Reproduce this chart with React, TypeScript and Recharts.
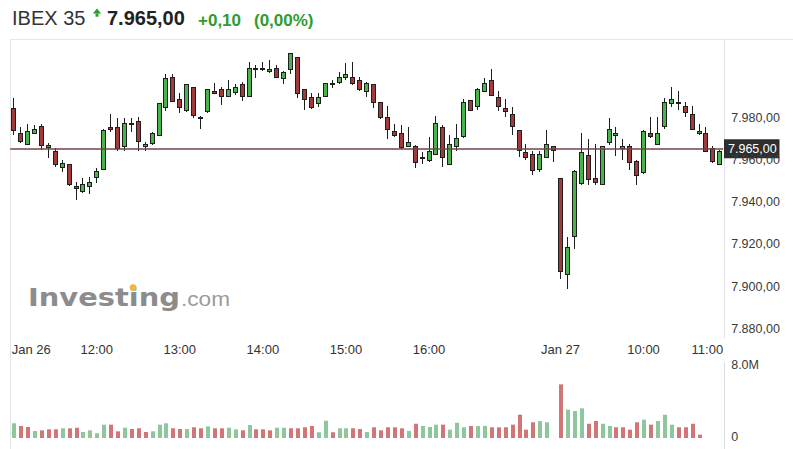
import React from "react";
import { ComposedChart, Bar, XAxis, YAxis, ReferenceLine } from "recharts";

// ---------- data ----------
const SESSIONS = [
  { day: "Jan 26", startHour: 11, startMinute: 0, count: 79 },
  { day: "Jan 27", startHour: 9, startMinute: 0, count: 24 },
];

const OPEN = [
  7984.5, 7972.4, 7966.9, 7972.2, 7975.7, 7965.3, 7964.0, 7956.1, 7957.7, 7947.6,
  7944.7, 7947.1, 7951.1, 7955.0, 7975.5, 7975.5, 7966.1, 7977.4, 7978.4, 7966.1,
  7967.2, 7971.3, 7984.3, 7999.2, 7988.7, 7983.0, 7994.4, 7980.3, 7982.4, 7992.6,
  7993.3, 7989.8, 7991.4, 7995.6, 7989.8, 8002.7, 8003.2, 8001.3, 8003.2, 7998.2,
  8002.4, 8008.4, 7993.3, 7989.8, 7986.3, 7989.8, 7995.6, 7996.1, 7998.5, 7999.0,
  7997.7, 7992.1, 7995.6, 7987.1, 7980.3, 7973.5, 7972.4, 7966.1, 7966.5, 7961.2,
  7959.3, 7962.1, 7975.5, 7957.4, 7966.1, 7970.8, 7988.2, 7985.0, 7992.1, 7997.7,
  7989.5, 7984.3, 7981.4, 7974.0, 7963.7, 7962.5, 7955.0, 7960.9, 7966.4, 7951.1,
  7905.3, 7923.1, 7948.4, 7962.1, 7951.1, 7947.9, 7968.0, 7971.1, 7965.1, 7966.4,
  7959.4, 7953.5, 7972.7, 7966.9, 7975.3, 7986.3, 7987.1, 7985.4, 7981.6, 7972.1,
  7972.4, 7965.3, 7957.4,
];
const HIGH = [
  7989.0, 7975.5, 7976.7, 7976.4, 7976.7, 7967.7, 7965.3, 7959.8, 7958.0, 7949.5,
  7951.1, 7951.8, 7955.8, 7974.3, 7981.6, 7979.8, 7979.8, 7979.8, 7980.3, 7968.4,
  7973.0, 7987.0, 8000.4, 8000.4, 7991.4, 7996.0, 7994.6, 7980.5, 7993.5, 7996.1,
  7994.5, 7997.7, 7995.6, 7996.6, 8006.1, 8004.8, 8006.1, 8007.2, 8004.8, 8001.9,
  8010.5, 8008.6, 7993.5, 7991.4, 7991.4, 7996.3, 7997.7, 8001.3, 8005.6, 8006.4,
  7999.2, 7996.6, 7995.8, 7987.3, 7985.5, 7976.7, 7976.4, 7975.5, 7966.7, 7963.7,
  7970.8, 7980.6, 7976.4, 7971.6, 7976.7, 7988.7, 7988.4, 7994.0, 7998.5, 8002.7,
  7992.6, 7988.7, 7985.0, 7974.2, 7967.2, 7964.0, 7964.0, 7974.0, 7966.6, 7951.3,
  7923.4, 7955.0, 7972.7, 7969.6, 7967.3, 7966.6, 7979.5, 7975.3, 7969.6, 7967.3,
  7959.6, 7973.8, 7980.3, 7980.3, 7989.0, 7994.5, 7992.6, 7987.4, 7985.4, 7976.8,
  7975.3, 7966.4, 7964.5,
];
const LOW = [
  7971.6, 7967.7, 7966.9, 7971.9, 7964.5, 7960.9, 7956.6, 7953.9, 7947.5, 7940.8,
  7944.0, 7943.5, 7948.7, 7954.8, 7972.9, 7964.0, 7964.0, 7972.9, 7964.0, 7964.0,
  7966.8, 7971.0, 7983.0, 7987.1, 7981.9, 7982.5, 7979.8, 7974.5, 7982.0, 7991.0,
  7985.8, 7989.5, 7990.6, 7987.7, 7989.6, 7998.8, 8001.9, 8001.0, 7998.5, 7995.6,
  8000.4, 7989.3, 7983.5, 7983.9, 7985.0, 7989.6, 7993.7, 7995.6, 7997.7, 7995.4,
  7992.7, 7989.8, 7984.5, 7979.3, 7969.7, 7970.8, 7965.0, 7966.0, 7955.8, 7957.9,
  7959.0, 7962.0, 7956.6, 7957.2, 7964.0, 7970.3, 7982.8, 7983.5, 7992.0, 7990.0,
  7983.0, 7980.3, 7971.6, 7961.3, 7959.8, 7952.7, 7953.9, 7960.9, 7959.0, 7903.2,
  7898.5, 7917.4, 7947.9, 7947.9, 7947.9, 7947.7, 7966.9, 7961.7, 7959.8, 7955.0,
  7947.9, 7953.3, 7970.0, 7966.8, 7974.3, 7985.0, 7983.5, 7980.3, 7973.8, 7971.6,
  7963.5, 7958.5, 7957.2,
];
const CLOSE = [
  7973.5, 7968.2, 7973.5, 7974.3, 7966.4, 7966.9, 7957.4, 7958.2, 7947.9, 7946.0,
  7948.2, 7949.5, 7954.7, 7974.0, 7974.0, 7965.0, 7977.2, 7976.4, 7968.2, 7967.2,
  7972.4, 7986.6, 7998.5, 7987.4, 7984.3, 7995.6, 7980.6, 7979.8, 7993.3, 7991.2,
  7989.8, 7993.3, 7994.5, 7989.5, 8003.2, 8003.2, 8002.4, 8002.9, 7998.8, 8001.3,
  8010.3, 7991.0, 7988.2, 7984.3, 7989.8, 7996.1, 7996.1, 7999.2, 8000.4, 7995.6,
  7992.9, 7996.1, 7986.6, 7979.5, 7974.0, 7971.1, 7965.3, 7968.2, 7958.2, 7960.6,
  7964.0, 7977.2, 7960.9, 7967.2, 7970.3, 7987.1, 7983.0, 7993.3, 7996.1, 7990.2,
  7985.0, 7982.4, 7975.5, 7964.0, 7960.6, 7954.5, 7962.5, 7967.2, 7964.0, 7906.8,
  7918.7, 7954.7, 7963.7, 7950.3, 7949.0, 7966.4, 7974.3, 7972.7, 7966.4, 7958.2,
  7952.2, 7973.6, 7970.5, 7972.7, 7987.4, 7988.5, 7986.6, 7982.2, 7974.0, 7973.6,
  7963.7, 7959.0, 7964.2,
];
// volume in millions
const VOLUME = [
  1.59, 1.30, 1.19, 0.76, 0.83, 0.94, 0.94, 1.05, 1.05, 1.11,
  0.65, 0.83, 0.51, 1.44, 1.44, 0.72, 1.11, 0.97, 1.05, 0.65,
  0.72, 1.44, 1.59, 1.05, 0.97, 0.97, 1.16, 1.05, 1.26, 1.05,
  1.05, 1.11, 0.94, 0.83, 1.40, 0.94, 0.94, 0.83, 1.11, 1.11,
  1.05, 1.05, 1.16, 1.30, 0.62, 1.87, 0.62, 1.05, 1.05, 1.05,
  0.97, 0.65, 1.16, 0.83, 1.16, 1.16, 1.05, 0.76, 1.54, 1.30,
  1.19, 1.44, 1.44, 0.90, 1.65, 1.16, 1.30, 1.30, 1.30, 1.16,
  1.16, 1.16, 1.44, 2.52, 0.90, 1.70, 1.84, 1.70, 0, 5.80,
  3.06, 2.92, 3.21, 1.54, 1.84, 1.54, 1.30, 1.16, 1.16, 0.90,
  1.70, 1.98, 1.44, 1.84, 2.52, 1.44, 1.16, 1.16, 1.54, 0.36,
  0, 0, 0,
];
// 1 = green volume bar, 0 = red volume bar
const VOLUME_UP = [
  1, 0, 0, 1, 0, 0, 0, 1, 0, 0,
  1, 1, 1, 1, 0, 0, 1, 0, 0, 0,
  1, 1, 1, 0, 0, 1, 0, 0, 1, 0,
  0, 1, 1, 0, 1, 0, 0, 0, 1, 1,
  0, 0, 0, 0, 1, 1, 0, 1, 1, 0,
  0, 1, 0, 0, 0, 0, 0, 1, 0, 1,
  1, 1, 0, 1, 1, 1, 0, 1, 1, 0,
  0, 0, 0, 0, 0, 0, 1, 1, 1, 0,
  1, 1, 1, 0, 0, 1, 1, 0, 0, 0,
  0, 1, 0, 1, 1, 1, 0, 0, 0, 0,
  0, 0, 0,
];

const X_TICK_INDEX = [0, 12, 24, 36, 48, 60, 79, 91, 103];
const X_TICK_LABELS = ["Jan 26", "12:00", "13:00", "14:00", "15:00", "16:00", "Jan 27", "10:00", "11:00"];
const PRICE_TICKS = [7880, 7900, 7920, 7940, 7960, 7980];
const PRICE_DOMAIN = [7874.45, 8016.64];
const LAST_PRICE = 7965;
const VOLUME_TICKS = [0, 8];
const VOLUME_DOMAIN = [0, 8];

// ---------- layout ----------
const W = 793;
const PLOT_LEFT = 10.2;
const AXIS_W = 69.8;
const PLOT_RIGHT = W - AXIS_W;
const FONT = "'Liberation Sans', Arial, sans-serif";
const GREEN_TXT = "#2e9c2e";

const pad = (n: number) => (n < 10 ? "0" + n : "" + n);
const times: string[] = [];
SESSIONS.forEach((s) => {
  for (let k = 0; k < s.count; k++) {
    const m = s.startHour * 60 + s.startMinute + k * 5;
    times.push(`${s.day} ${pad(Math.floor(m / 60))}:${pad(m % 60)}`);
  }
});

const data = OPEN.map((o, i) => ({
  i,
  t: times[i],
  o,
  h: HIGH[i],
  l: LOW[i],
  c: CLOSE[i],
  v: VOLUME[i],
  up: VOLUME_UP[i],
}));

const fmtPrice = (v: number) => {
  const [int, dec] = v.toFixed(2).split(".");
  const withDots = int.replace(/\B(?=(\d{3})+(?!\d))/g, ".");
  return `${withDots},${dec}`;
};

// ---------- shapes ----------
const Candle = (props: any) => {
  const { x, y, width, height, payload } = props;
  if (x == null || payload == null) return null;
  const { o, h, l, c } = payload;
  const top = Math.min(y, y + height);
  const hgt = Math.abs(height);
  const py = (v: number) => (h === l ? top : top + ((h - v) / (h - l)) * hgt);
  const cx = Math.floor(x + width / 2);
  const up = c >= o;
  const bTop = Math.round(py(Math.max(o, c)));
  let bBot = Math.round(py(Math.min(o, c)));
  if (bBot - bTop < 2) bBot = bTop + 2;
  return (
    <g>
      <line x1={cx + 0.5} x2={cx + 0.5} y1={Math.round(top)} y2={Math.round(top + hgt)} stroke="#1e1e1e" strokeWidth={1} />
      <rect
        x={cx - 1.5}
        y={bTop + 0.5}
        width={4}
        height={bBot - bTop - 1}
        fill={up ? "#4ab34c" : "#a23a3a"}
        stroke="#1e1e1e"
        strokeWidth={1}
      />
    </g>
  );
};

const VolBar = (props: any) => {
  const { x, y, width, height, payload } = props;
  if (x == null || !height || height <= 0) return null;
  const cx = Math.floor(x + width / 2);
  return <rect x={cx - 1} y={y} width={4} height={height} fill={payload.up ? "#8ec79d" : "#d27576"} />;
};

const TimeTick = (props: any) => {
  const { x, y, payload } = props;
  const k = X_TICK_INDEX.indexOf(payload.value);
  if (k < 0) return null;
  let anchor: "start" | "middle" | "end" = "middle";
  let tx = x;
  if (k === 0) {
    anchor = "start";
    tx = PLOT_LEFT + 1.5;
  }
  if (k === X_TICK_INDEX.length - 1) {
    anchor = "end";
    tx = PLOT_RIGHT;
  }
  return (
    <text x={tx} y={y} dy={14} textAnchor={anchor} fontSize={13} fill="#333" fontFamily={FONT}>
      {X_TICK_LABELS[k]}
    </text>
  );
};

const PriceTick = (props: any) => {
  const { x, y, payload } = props;
  return (
    <text x={x} y={y} dy={4.5} textAnchor="start" fontSize={12.5} fill="#3a3a3a" fontFamily={FONT}>
      {fmtPrice(payload.value)}
    </text>
  );
};

const VolTick = (props: any) => {
  const { x, y, payload } = props;
  const label = payload.value === 0 ? "0" : `${payload.value.toFixed(1)}M`;
  return (
    <text x={x} y={y} dy={payload.value === 0 ? 2.5 : 4.5} textAnchor="start" fontSize={12.5} fill="#3a3a3a" fontFamily={FONT}>
      {label}
    </text>
  );
};

const LastLabel = (props: any) => {
  const vb = props.viewBox || {};
  const bx = vb.x + vb.width + 0.8;
  const by = vb.y;
  return (
    <g>
      <rect x={bx} y={by - 9.7} width={55.5} height={19} fill="#2f2f2f" />
      <text x={bx + 4} y={by + 4.5} fontSize={12.5} fill="#ffffff" fontFamily={FONT}>
        {fmtPrice(LAST_PRICE)}
      </text>
    </g>
  );
};

export default function App() {
  return (
    <div style={{ position: "absolute", left: 0, top: 0, width: W, height: 449, background: "#fff", overflow: "hidden", fontFamily: FONT }}>
      {/* frame lines */}
      <svg width={W} height={449} style={{ position: "absolute", left: 0, top: 0 }}>
        <line x1={10} x2={W} y1={39.5} y2={39.5} stroke="#e6e6e6" strokeWidth={1} />
        <line x1={10.5} x2={10.5} y1={40} y2={449} stroke="#e6e6e6" strokeWidth={1} />
        <line x1={724.5} x2={724.5} y1={40} y2={338} stroke="#e0e0e6" strokeWidth={1} />
        <line x1={724.5} x2={724.5} y1={362} y2={449} stroke="#dcdce6" strokeWidth={1} />
      </svg>

      {/* header */}
      <svg width={W} height={40} style={{ position: "absolute", left: 0, top: 0 }}>
        <text x={12} y={25} fontSize={20} fill="#333" fontFamily={FONT}>IBEX 35</text>
        <polygon points="97,8.5 92.8,13.6 101.2,13.6" fill={GREEN_TXT} />
        <rect x={95.5} y={13.5} width={3} height={3.2} fill={GREEN_TXT} />
        <text x={107} y={25} fontSize={20} fontWeight="bold" fill="#222" fontFamily={FONT}>7.965,00</text>
        <text x={198} y={25.5} fontSize={17} fontWeight="bold" fill={GREEN_TXT} fontFamily={FONT}>+0,10</text>
        <text x={254} y={25.5} fontSize={17} fontWeight="bold" fill={GREEN_TXT} fontFamily={FONT}>(0,00%)</text>
      </svg>

      {/* watermark */}
      <svg width={W} height={449} style={{ position: "absolute", left: 0, top: 0 }}>
        <text x={28} y={306} fontSize={25} fontWeight="bold" fill="#8c8c8c" textLength={152} lengthAdjust="spacingAndGlyphs" fontFamily="'DejaVu Sans', sans-serif">
          Investing
        </text>
        <circle cx={133} cy={287.5} r={3.3} fill="#f2b53d" />
        <text x={181} y={306} fontSize={21} fill="#9c9c9c" textLength={49} lengthAdjust="spacingAndGlyphs" fontFamily={FONT}>
          .com
        </text>
      </svg>

      {/* price chart */}
      <div style={{ position: "absolute", left: 0, top: 40 }}>
        <ComposedChart width={W} height={320} data={data} margin={{ top: 0, right: 0, bottom: 0, left: PLOT_LEFT }} barCategoryGap={0} barGap={0}>
          <XAxis
            xAxisId="time"
            dataKey="i"
            type="number"
            domain={[-0.5, 102.5]}
            allowDataOverflow
            ticks={X_TICK_INDEX}
            interval={0}
            tick={<TimeTick />}
            tickLine={false}
            axisLine={false}
            tickSize={0}
            tickMargin={0}
            height={20}
          />
          <XAxis xAxisId="cat" dataKey="i" type="category" hide height={0} />
          <YAxis
            yAxisId="p"
            orientation="right"
            domain={PRICE_DOMAIN}
            allowDataOverflow
            ticks={PRICE_TICKS}
            interval={0}
            width={AXIS_W}
            tick={<PriceTick />}
            tickLine={false}
            axisLine={false}
          />
          <Bar xAxisId="cat" yAxisId="p" dataKey={(d: any) => [d.l, d.h]} shape={<Candle />} isAnimationActive={false} />
          <ReferenceLine xAxisId="cat" yAxisId="p" y={LAST_PRICE} stroke="#6f4545" strokeWidth={1.6} label={<LastLabel />} />
        </ComposedChart>
      </div>

      {/* volume chart */}
      <div style={{ position: "absolute", left: 0, top: 356 }}>
        <ComposedChart width={W} height={86} data={data} margin={{ top: 8, right: 0, bottom: 4, left: PLOT_LEFT }} barCategoryGap={0} barGap={0}>
          <XAxis dataKey="i" type="category" hide height={0} />
          <YAxis
            orientation="right"
            domain={VOLUME_DOMAIN}
            allowDataOverflow
            ticks={VOLUME_TICKS}
            interval={0}
            width={AXIS_W}
            tick={<VolTick />}
            tickLine={false}
            axisLine={false}
          />
          <Bar dataKey="v" shape={<VolBar />} isAnimationActive={false} />
        </ComposedChart>
      </div>
    </div>
  );
}
